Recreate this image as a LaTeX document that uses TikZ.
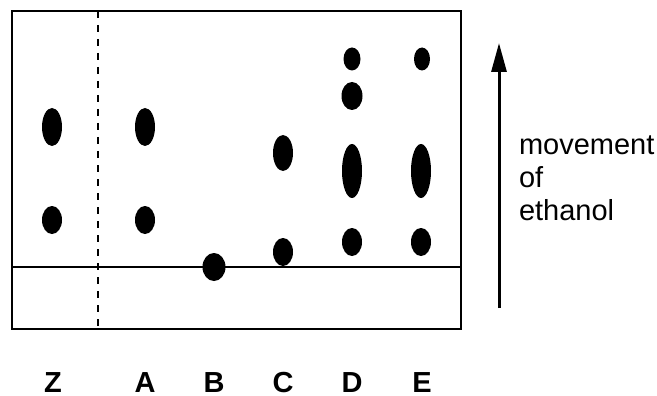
\documentclass[tikz,border=0pt]{standalone}
\usepackage{fontspec}
\setmainfont{Liberation Sans}
\usetikzlibrary{shapes.geometric,arrows.meta}
\begin{document}
\begin{tikzpicture}[
    x=1pt, y=-1pt,
    >={Triangle[length=29pt,width=15pt]},
    line width=2pt,
    spot/.style={ellipse, fill=black, draw=none, inner sep=0pt},
    lane/.style={font=\fontsize{29}{33}\selectfont\bfseries, anchor=base, inner sep=0pt}
]
  \useasboundingbox (0,0) rectangle (657,396);

  % paper
  \coordinate (TL) at (12,11);
  \coordinate (BR) at (461,329);
  \draw (TL) rectangle (BR);
  \coordinate (SL) at (12,267);
  \coordinate (SR) at (461,267);
  \draw (SL) -- (SR);
  \coordinate (DT) at (98,11);
  \coordinate (DB) at (98,329);
  \draw[line width=2.5pt, dash pattern=on 7pt off 7pt] (DT) -- (DB);

  % spots (placed to match the screenshot)
  \node[spot, minimum width=20pt, minimum height=38pt] (Z1) at (52,127) {};
  \node[spot, minimum width=20pt, minimum height=28pt] (Z2) at (52,220) {};
  \node[spot, minimum width=20pt, minimum height=38pt] (A1) at (145,127) {};
  \node[spot, minimum width=20pt, minimum height=28pt] (A2) at (145,220) {};
  \node[spot, minimum width=23pt, minimum height=28pt] (B1) at (214,267) {};
  \node[spot, minimum width=20pt, minimum height=36pt] (C1) at (283,153) {};
  \node[spot, minimum width=20pt, minimum height=28pt] (C2) at (283,252) {};
  \node[spot, minimum width=17pt, minimum height=23pt] (D1) at (352,59) {};
  \node[spot, minimum width=21pt, minimum height=28pt] (D2) at (352,96) {};
  \node[spot, minimum width=20pt, minimum height=54pt] (D3) at (352,171) {};
  \node[spot, minimum width=20pt, minimum height=28pt] (D4) at (352,242) {};
  \node[spot, minimum width=16pt, minimum height=23pt] (E1) at (422,59) {};
  \node[spot, minimum width=20pt, minimum height=54pt] (E2) at (421,171) {};
  \node[spot, minimum width=20pt, minimum height=28pt] (E3) at (421,242) {};

  % lane labels
  \node[lane] (LZ) at (53,392) {Z};
  \node[lane] (LA) at (145,392) {A};
  \node[lane] (LB) at (214,392) {B};
  \node[lane] (LC) at (283,392) {C};
  \node[lane] (LD) at (352,392) {D};
  \node[lane] (LE) at (422,392) {E};

  % direction arrow
  \coordinate (AB) at (499,308);
  \coordinate (AT) at (499,43);
  \draw[->, line width=3pt] (AB) -- (AT);
  \node[anchor=base west, inner sep=0pt, align=left,
        font=\fontsize{29}{33}\selectfont] (mv) at (518,220)
        {movement\\of\\ethanol};
\end{tikzpicture}
\end{document}
